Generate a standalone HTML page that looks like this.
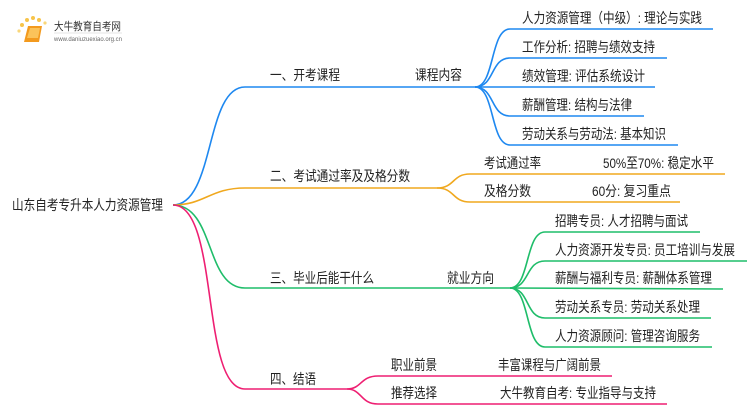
<!DOCTYPE html>
<html><head><meta charset="utf-8"><style>
html,body{margin:0;padding:0;background:#fff;width:750px;height:410px;overflow:hidden}
svg{display:block}
text{font-family:"Liberation Sans","Noto Sans CJK SC",sans-serif;fill:#222;font-size:14px}
.s{font-size:13.5px}
</style></head><body>
<svg width="750" height="410" viewBox="0 0 750 410">
<!-- logo -->
<circle cx="22" cy="25" r="2" fill="#f7c44a"/><circle cx="27" cy="20" r="2" fill="#f7c44a"/><circle cx="33" cy="18" r="2" fill="#f7c44a"/><circle cx="39" cy="20" r="2" fill="#f7c44a"/><circle cx="19" cy="31" r="1.6" fill="#f9d77a"/><circle cx="45" cy="23" r="1.6" fill="#f9d77a"/>
<path d="M28 26 L42 26 L39 42 L24 42 Z" fill="#f39a1e"/><path d="M30 28 L40 28 L38 38 L27 38 Z" fill="#fbc35a"/>
<text x="54" y="30" style="font-size:11px;fill:#333" textLength="67" lengthAdjust="spacingAndGlyphs">大牛教育自考网</text>
<line x1="54" y1="33" x2="122" y2="33" stroke="#ccc" stroke-width="0.6"/>
<text x="54" y="41" style="font-size:6.5px;fill:#666" textLength="68" lengthAdjust="spacingAndGlyphs">www.daniuzuexiao.org.cn</text>

<g fill="none" stroke-width="1.6">
<!-- blue -->
<path d="M173 205 C215 205 205 87 245 87 L475 87" stroke="#1e88f0"/>
<g stroke="#1e88f0">
<path d="M475 87 C495 87 490 29 510 29 L713 29"/>
<path d="M475 87 C495 87 490 58 510 58 L667 58"/>
<path d="M475 87 L655 87"/>
<path d="M475 87 C495 87 490 116 510 116 L644 116"/>
<path d="M475 87 C495 87 490 145 510 145 L678 145"/>
</g>
<!-- orange -->
<path d="M173 205 C205 205 210 188 245 188 L437 188" stroke="#f0a81e"/>
<path d="M437 188 C455 188 452 174 470 174 L725 174" stroke="#f0a81e"/>
<path d="M437 188 C455 188 452 202 470 202 L680 202" stroke="#f0a81e"/>
<!-- green -->
<path d="M173 205 C215 205 205 288 245 288 L510 288" stroke="#1fbd6a"/>
<g stroke="#1fbd6a">
<path d="M510 288 C530 288 525 232 545 232 L700 232"/>
<path d="M510 288 C530 288 525 261 545 261 L747 261"/>
<path d="M510 288 L723 289"/>
<path d="M510 288 C530 288 525 318 545 318 L711 318"/>
<path d="M510 288 C530 288 525 347 545 347 L712 347"/>
</g>
<!-- pink -->
<path d="M173 205 C220 205 200 389 245 389 L347 389" stroke="#ee1f72"/>
<path d="M347 389 C362 389 360 376 378 376 L612 376" stroke="#ee1f72"/>
<path d="M347 389 C362 389 360 404 378 404 L667 404" stroke="#ee1f72"/>
</g>

<text x="12" y="210" textLength="151" lengthAdjust="spacingAndGlyphs">山东自考专升本人力资源管理</text>
<text x="270" y="80" textLength="70" lengthAdjust="spacingAndGlyphs">一、开考课程</text>
<text x="270" y="181" textLength="140" lengthAdjust="spacingAndGlyphs">二、考试通过率及及格分数</text>
<text x="270" y="283" textLength="104" lengthAdjust="spacingAndGlyphs">三、毕业后能干什么</text>
<text x="270" y="384" textLength="46" lengthAdjust="spacingAndGlyphs">四、结语</text>
<text x="415" y="80" textLength="47" lengthAdjust="spacingAndGlyphs">课程内容</text>
<text x="522" y="23" textLength="180" lengthAdjust="spacingAndGlyphs">人力资源管理（中级）: 理论与实践</text>
<text x="522" y="52" textLength="133" lengthAdjust="spacingAndGlyphs">工作分析: 招聘与绩效支持</text>
<text x="522" y="81" textLength="123" lengthAdjust="spacingAndGlyphs">绩效管理: 评估系统设计</text>
<text x="522" y="110" textLength="110" lengthAdjust="spacingAndGlyphs">薪酬管理: 结构与法律</text>
<text x="522" y="139" textLength="144" lengthAdjust="spacingAndGlyphs">劳动关系与劳动法: 基本知识</text>
<text x="484" y="168" textLength="57" lengthAdjust="spacingAndGlyphs">考试通过率</text>
<text x="603" y="168" textLength="111" lengthAdjust="spacingAndGlyphs">50%至70%: 稳定水平</text>
<text x="484" y="196" textLength="47" lengthAdjust="spacingAndGlyphs">及格分数</text>
<text x="592" y="196" textLength="79" lengthAdjust="spacingAndGlyphs">60分: 复习重点</text>
<text x="447" y="283" textLength="47" lengthAdjust="spacingAndGlyphs">就业方向</text>
<text x="555" y="226" textLength="133" lengthAdjust="spacingAndGlyphs">招聘专员: 人才招聘与面试</text>
<text x="555" y="255" textLength="180" lengthAdjust="spacingAndGlyphs">人力资源开发专员: 员工培训与发展</text>
<text x="555" y="283" textLength="157" lengthAdjust="spacingAndGlyphs">薪酬与福利专员: 薪酬体系管理</text>
<text x="555" y="312" textLength="145" lengthAdjust="spacingAndGlyphs">劳动关系专员: 劳动关系处理</text>
<text x="555" y="341" textLength="145" lengthAdjust="spacingAndGlyphs">人力资源顾问: 管理咨询服务</text>
<text x="391" y="370" textLength="46" lengthAdjust="spacingAndGlyphs">职业前景</text>
<text x="498" y="370" textLength="103" lengthAdjust="spacingAndGlyphs">丰富课程与广阔前景</text>
<text x="391" y="398" textLength="46" lengthAdjust="spacingAndGlyphs">推荐选择</text>
<text x="500" y="398" textLength="156" lengthAdjust="spacingAndGlyphs">大牛教育自考: 专业指导与支持</text>
</svg>
</body></html>
